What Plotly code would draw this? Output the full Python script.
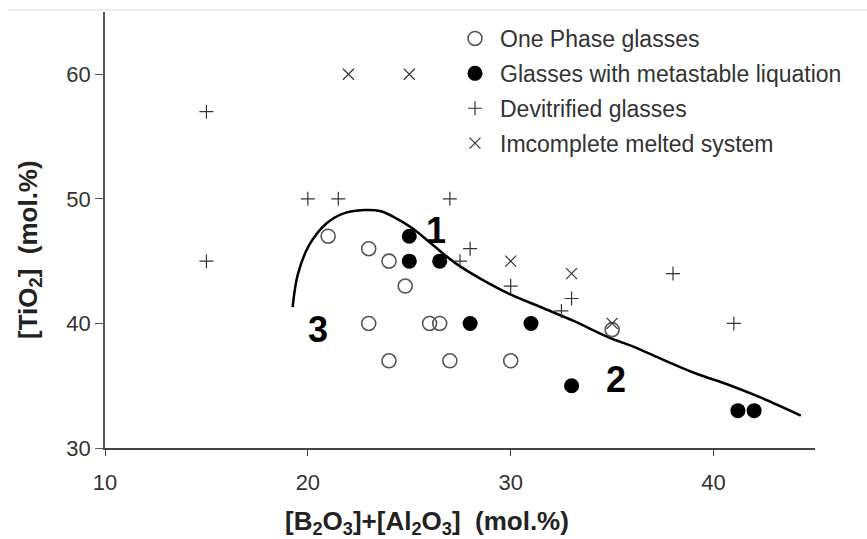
import plotly.graph_objects as go

# One phase glasses (open circles)
one_x = [21, 23, 24, 24.8, 23, 26, 26.5, 24, 27, 30, 35]
one_y = [47, 46, 45, 43, 40, 40, 40, 37, 37, 37, 39.5]
# Glasses with metastable liquation (filled circles)
liq_x = [25, 25, 26.5, 28, 31, 33, 41.2, 42]
liq_y = [47, 45, 45, 40, 40, 35, 33, 33]
# Devitrified glasses (+)
dev_x = [15, 15, 20, 21.5, 27, 28, 27.5, 30, 33, 32.5, 38, 41]
dev_y = [57, 45, 50, 50, 50, 46, 45, 43, 42, 41, 44, 40]
# Incomplete melted system (x)
inc_x = [22, 25, 30, 33, 35]
inc_y = [60, 60, 45, 44, 40]
# Boundary curve
cur_x = [19.25, 19.5, 20.07, 20.9, 21.7, 22.8, 23.6, 24.4, 25.1, 25.8, 26.6, 27.4,
         28.5, 29.9, 31.5, 33.1, 34.8, 36.1, 37.5, 39.1, 40.7, 42.4, 44.3]
cur_y = [41.3, 43.9, 46.3, 48.0, 48.8, 49.1, 49.0, 48.4, 47.7, 46.8, 45.7, 44.7,
         43.6, 42.4, 41.3, 40.2, 38.9, 38.1, 37.1, 36.0, 35.1, 34.0, 32.6]
# Region labels
lab_text = ["1", "2", "3"]
lab_x = [26.3, 35.2, 20.5]
lab_y = [47.5, 35.5, 39.5]

FONT = "Liberation Sans, Arial, sans-serif"
fig = go.Figure()
fig.add_trace(go.Scatter(x=cur_x, y=cur_y, mode="lines", line=dict(color="black", width=2.5, shape="spline"),
                         showlegend=False, hoverinfo="skip"))
fig.add_trace(go.Scatter(x=one_x, y=one_y, mode="markers", name="One Phase glasses", legendgroup="a",
                         marker=dict(symbol="circle-open", size=14, color="#555", line=dict(width=1.6))))
fig.add_trace(go.Scatter(x=liq_x, y=liq_y, mode="markers", name="Glasses with metastable liquation", legendgroup="b",
                         marker=dict(symbol="circle", size=15, color="black")))
fig.add_trace(go.Scatter(x=dev_x, y=dev_y, mode="markers", name="Devitrified glasses", legendgroup="c",
                         marker=dict(symbol="cross-thin-open", size=10, color="#333", line=dict(width=1.2, color="#333"))))
fig.add_trace(go.Scatter(x=inc_x, y=inc_y, mode="markers", name="Imcomplete melted system", legendgroup="d",
                         marker=dict(symbol="x-thin-open", size=11, color="#333", line=dict(width=1.2, color="#333"))))

for t, x, y in zip(lab_text, lab_x, lab_y):
    fig.add_annotation(x=x, y=y, text="<b>%s</b>" % t, showarrow=False,
                       font=dict(size=36, color="black", family=FONT))

fig.add_annotation(xref="paper", yref="paper", x=(427 - 105) / 710, y=(448 - 522) / 436,
                   xanchor="center", yanchor="middle",
                   text="<b>[B<sub>2</sub>O<sub>3</sub>]+[Al<sub>2</sub>O<sub>3</sub>]\u00a0\u00a0(mol.%)</b>",
                   showarrow=False, font=dict(size=26, color="#222", family=FONT))
fig.add_annotation(xref="paper", yref="paper", x=(30 - 105) / 710, y=(448 - 250) / 436,
                   xanchor="center", yanchor="middle",
                   text="<b>[TiO<sub>2</sub>]\u00a0\u00a0(mol.%)</b>", textangle=-90,
                   showarrow=False, font=dict(size=26, color="#222", family=FONT))

fig.add_shape(type="line", xref="paper", yref="paper", x0=(8 - 105) / 710, x1=(867 - 105) / 710,
              y0=(448 - 10) / 436, y1=(448 - 10) / 436, line=dict(color="#eeeeee", width=2))

fig.update_xaxes(range=[10, 45], tickvals=[10, 20, 30, 40], showgrid=False, zeroline=False,
                 showline=True, linecolor="#444", linewidth=2, ticks="outside", ticklen=6, tickcolor="#444",
                 ticklabelstandoff=8,
                 tickfont=dict(size=22, color="#333", family=FONT))
fig.update_yaxes(range=[30, 65], tickvals=[30, 40, 50, 60], showgrid=False, zeroline=False,
                 showline=True, linecolor="#555", linewidth=1.5, ticks="outside", ticklen=8, tickcolor="#555",
                 tickfont=dict(size=22, color="#333", family=FONT))

fig.update_layout(width=867, height=539, margin=dict(l=105, r=52, t=12, b=91),
                  plot_bgcolor="white", paper_bgcolor="white",
                  legend=dict(x=(450 - 105) / 710, y=(448 - 17) / 436, xanchor="left", yanchor="top",
                              font=dict(size=23, color="#333", family=FONT), itemwidth=40,
                              tracegroupgap=2, bgcolor="rgba(0,0,0,0)"))

fig.write_html("out.html")
